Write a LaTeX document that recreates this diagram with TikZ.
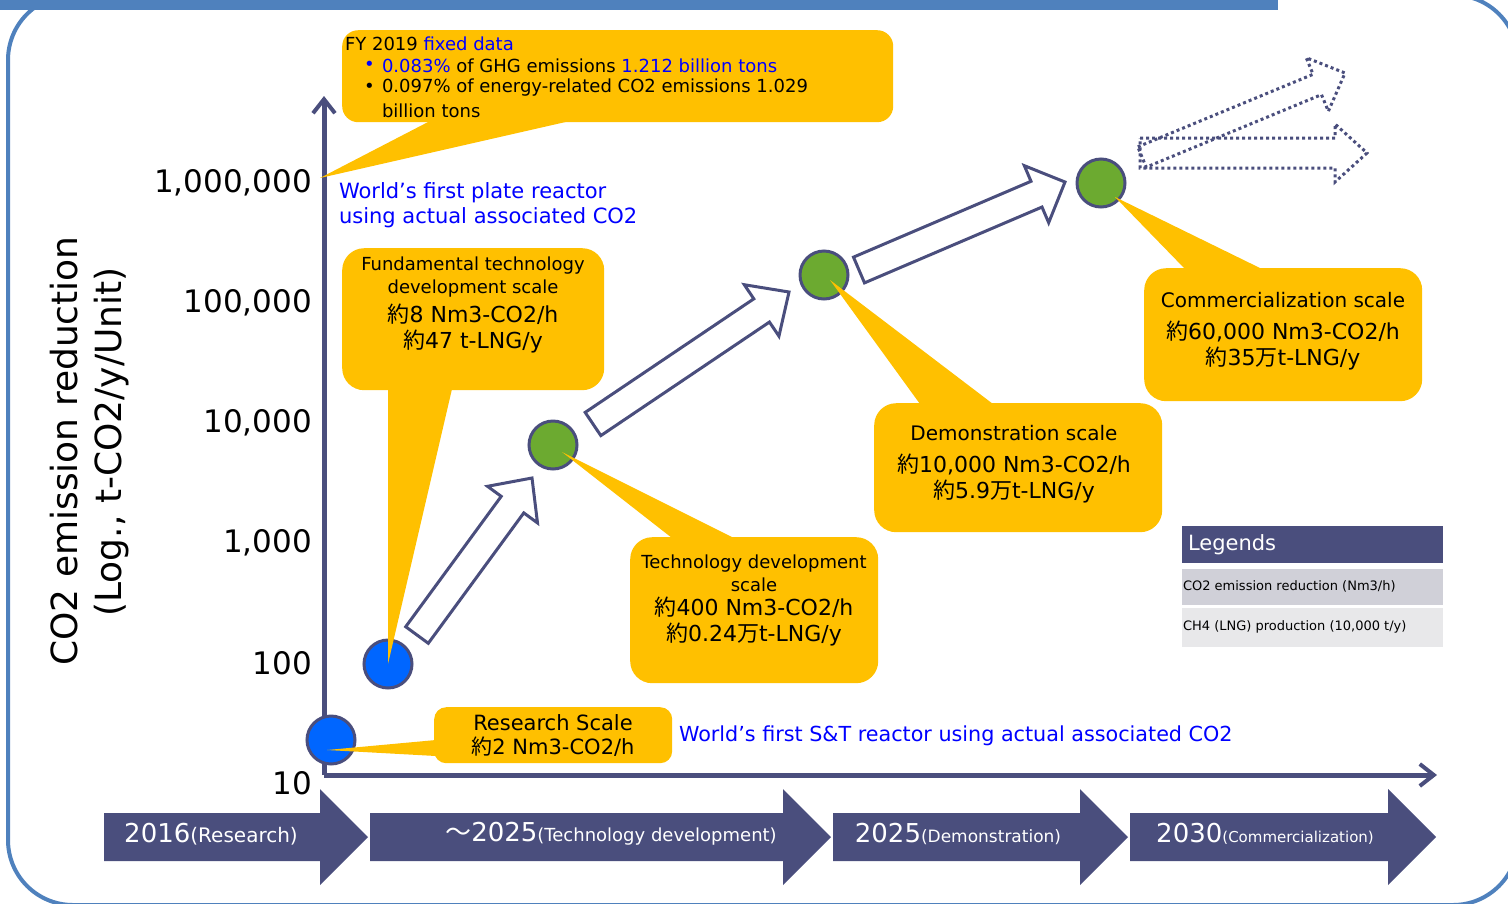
\documentclass[tikz,border=0pt]{standalone}
\usepackage{fontspec}
\setmainfont{DejaVu Sans}
\newfontfamily\cjk{Noto Sans CJK JP}
\usetikzlibrary{calc,arrows.meta}
\definecolor{navy}{RGB}{74,78,125}
\definecolor{frameblue}{RGB}{79,129,189}
\definecolor{callout}{RGB}{255,192,0}
\definecolor{dotblue}{RGB}{0,102,255}
\definecolor{dotgreen}{RGB}{108,170,48}
\definecolor{txtblue}{RGB}{0,0,255}
\definecolor{legA}{RGB}{208,208,216}
\definecolor{legB}{RGB}{232,232,234}
\newcommand{\yk}{{\cjk 約}}
\newcommand{\mn}{{\cjk 万}}
\newcommand{\fsz}[2]{\fontsize{#1}{#2}\selectfont}
% #1 style, #2 tail, #3 tip, #4 shaft half width, #5 head half width, #6 head length
\newcommand{\blockarrow}[6]{%
  \path ($(#3)!#6!(#2)$) coordinate (ba-base);
  \draw[#1] ($(#2)!#4!90:(#3)$) -- ($(ba-base)!#4!90:(#3)$) -- ($(ba-base)!#5!90:(#3)$)
    -- (#3) -- ($(ba-base)!#5!-90:(#3)$) -- ($(ba-base)!#4!-90:(#3)$)
    -- ($(#2)!#4!-90:(#3)$) -- cycle;}
\begin{document}
\begin{tikzpicture}[x=1pt,y=-1pt,
  txt/.style={inner sep=0pt, outer sep=0pt},
  callbox/.style={fill=callout, draw=none, inner sep=0pt, anchor=north west},
  ptr/.style={fill=callout, draw=none},
  dotnode/.style={circle, draw=navy, line width=3pt, minimum size=48pt, inner sep=0pt},
  hollow/.style={draw=navy, line width=3pt, fill=white, line join=miter},
  ghost/.style={draw=navy, line width=3pt, dash pattern=on 3pt off 3pt},
  bar/.style={fill=navy, draw=none},
  bartxt/.style={txt, text=white},
  axis/.style={draw=navy, line width=5pt, -{Straight Barb[length=14pt,width=22pt,line width=4pt]}}
]
\useasboundingbox (0,0) rectangle (1508,903);
\clip (0,0) rectangle (1508,903);

% frame and banner
\draw[frameblue, line width=4pt, rounded corners=65pt] (8,-5) rectangle (1518,905);
\fill[frameblue] (0,0) rectangle (1278,10);

% axes
\coordinate (O) at (324,775);
\coordinate (ytop) at (324,96);
\coordinate (xend) at (1437,775);
\draw[axis] (O) -- (ytop);
\draw[axis] (O) -- (xend);

% tick labels
\foreach \v/\y [count=\i] in {{1,000,000}/183, {100,000}/303, {10,000}/423, {1,000}/543, 100/663, 10/783}
  \node[txt, anchor=east, font=\fsz{31}{31}] (tick\i) at (312,\y) {\v};

% axis title
\node[txt, rotate=90, font=\fsz{36}{36}] (ytitle1) at (64,451) {CO2 emission reduction};
\node[txt, rotate=90, font=\fsz{36}{36}] (ytitle2) at (112,442) {(Log., t-CO2/y/Unit)};

% circles
\node[dotnode, fill=dotblue] (c1) at (331,740) {};
\node[dotnode, fill=dotblue] (c2) at (388,664) {};
\node[dotnode, fill=dotgreen] (c3) at (553,445) {};
\node[dotnode, fill=dotgreen] (c4) at (824,275) {};
\node[dotnode, fill=dotgreen] (c5) at (1101,183) {};

% hollow block arrows
\coordinate (a1t) at (417,635); \coordinate (a1h) at (532,478);
\coordinate (a2t) at (593,424); \coordinate (a2h) at (789,292);
\coordinate (a3t) at (859,270); \coordinate (a3h) at (1065,182);
\blockarrow{hollow}{a1t}{a1h}{14pt}{31pt}{33pt}
\blockarrow{hollow}{a2t}{a2h}{14pt}{31pt}{33pt}
\blockarrow{hollow}{a3t}{a3h}{14pt}{31pt}{31pt}

% dotted future arrows
\coordinate (d1t) at (1142,157); \coordinate (d1h) at (1345,73);
\coordinate (d2t) at (1140,153); \coordinate (d2h) at (1367,153);
\blockarrow{ghost}{d2t}{d2h}{15pt}{29pt}{32pt}
\blockarrow{ghost}{d1t}{d1h}{11pt}{29pt}{30pt}

% FY 2019 callout
\node[callbox, rounded corners=16pt, minimum width=551pt, minimum height=92pt] (fy) at (342,30) {};
\fill[ptr] (430,121) -- (320,178) -- (570,121) -- cycle;
\node[txt, anchor=west, font=\fsz{18}{18}] (fy1) at (345,44) {FY 2019 \textcolor{txtblue}{fixed data}};
\node[txt, anchor=west, font=\fsz{18}{18}, text=txtblue] (fy2b) at (364,66) {•};
\node[txt, anchor=west, font=\fsz{18}{18}] (fy2) at (382,66) {\textcolor{txtblue}{0.083\%} of GHG emissions \textcolor{txtblue}{1.212 billion tons}};
\node[txt, anchor=west, font=\fsz{18}{18}] (fy3b) at (364,88) {•};
\node[txt, anchor=west, font=\fsz{18}{18}] (fy3) at (382,88) {0.097\% of energy-related CO2 emissions 1.029};
\node[txt, anchor=west, font=\fsz{18}{18}] (fy4) at (382,111) {billion tons};

% blue annotations
\node[txt, anchor=west, align=left, font=\fsz{21}{25}, text=txtblue] (plate) at (339,205) {World’s first plate reactor\\using actual associated CO2};
\node[txt, anchor=west, font=\fsz{20.7}{21}, text=txtblue] (stt) at (679,736) {World’s first S\&T reactor using actual associated CO2};

% Fundamental callout
\node[callbox, rounded corners=22pt, minimum width=262pt, minimum height=142pt] (fund) at (342,248) {};
\fill[ptr] (388,389) -- (c2.center) -- (452,389) -- cycle;
\node[txt, align=center, font=\fsz{18}{23}] (fundA) at (473,277) {Fundamental technology\\development scale};
\node[txt, align=center, font=\fsz{22}{26}] (fundB) at (473,329) {\yk 8 Nm3-CO2/h\\\yk 47 t-LNG/y};

% Research callout
\node[callbox, rounded corners=12pt, minimum width=238pt, minimum height=56pt] (res) at (434,707) {};
\fill[ptr] (436,740) -- ($(c1.center)+(-4,10)$) -- (436,756) -- cycle;
\node[txt, align=center, font=\fsz{21}{24}] (resA) at (553,735) {Research Scale\\\yk 2 Nm3-CO2/h};

% Technology development callout
\node[callbox, rounded corners=22pt, minimum width=248pt, minimum height=146pt] (tech) at (630,537) {};
\fill[ptr] (672,538) -- ($(c3.center)+(9,7)$) -- (734,538) -- cycle;
\node[txt, align=center, font=\fsz{18}{23}] (techA) at (754,573) {Technology development\\scale};
\node[txt, align=center, font=\fsz{22}{26}] (techB) at (754,622) {\yk 400 Nm3-CO2/h\\\yk 0.24\mn t-LNG/y};

% Demonstration callout
\node[callbox, rounded corners=22pt, minimum width=288pt, minimum height=129pt] (demo) at (874,403) {};
\fill[ptr] (920,404) -- ($(c4.center)+(6,5)$) -- (993,404) -- cycle;
\node[txt, font=\fsz{20}{20}] (demoA) at (1014,433) {Demonstration scale};
\node[txt, align=center, font=\fsz{22}{26}] (demoB) at (1014,479) {\yk 10,000 Nm3-CO2/h\\\yk 5.9\mn t-LNG/y};

% Commercialization callout
\node[callbox, rounded corners=22pt, minimum width=278pt, minimum height=133pt] (comm) at (1144,268) {};
\fill[ptr] (1185,269) -- ($(c5.center)+(14,14)$) -- (1262,269) -- cycle;
\node[txt, font=\fsz{20}{20}] (commA) at (1283,300) {Commercialization scale};
\node[txt, align=center, font=\fsz{22}{26}] (commB) at (1283,346) {\yk 60,000 Nm3-CO2/h\\\yk 35\mn t-LNG/y};

% legend
\node[fill=navy, inner sep=0pt, anchor=north west, minimum width=261pt, minimum height=37pt] (legH) at (1182,526) {};
\node[txt, anchor=west, text=white, font=\fsz{21}{21}] (legHt) at (1188,545) {Legends};
\node[fill=legA, inner sep=0pt, anchor=north west, minimum width=261pt, minimum height=36pt] (leg1) at (1182,569) {};
\node[txt, anchor=west, font=\fsz{13}{13}] (leg1t) at (1183,586) {CO2 emission reduction (Nm3/h)};
\node[fill=legB, inner sep=0pt, anchor=north west, minimum width=261pt, minimum height=39pt] (leg2) at (1182,608) {};
\node[txt, anchor=west, font=\fsz{13}{13}] (leg2t) at (1183,627) {CH4 (LNG) production (10,000 t/y)};

% timeline bar
\fill[bar] (104,813) -- (320,813) -- (320,789) -- (368,837) -- (320,885) -- (320,861) -- (104,861) -- cycle;
\fill[bar] (370,813) -- (783,813) -- (783,789) -- (831,837) -- (783,885) -- (783,861) -- (370,861) -- cycle;
\fill[bar] (833,813) -- (1080,813) -- (1080,789) -- (1128,837) -- (1080,885) -- (1080,861) -- (833,861) -- cycle;
\fill[bar] (1130,813) -- (1388,813) -- (1388,789) -- (1436,837) -- (1388,885) -- (1388,861) -- (1130,861) -- cycle;
\node[bartxt] (t1) at (211,834) {\fsz{26}{26}2016\fsz{20}{20}(Research)};
\node[bartxt] (t2) at (611,834) {\fsz{26}{26}{\cjk ～}2025\fsz{18}{18}(Technology development)};
\node[bartxt] (t3) at (958,834) {\fsz{26}{26}2025\fsz{17}{17}(Demonstration)};
\node[bartxt] (t4) at (1265,834) {\fsz{26}{26}2030\fsz{15}{15}(Commercialization)};
\end{tikzpicture}
\end{document}
